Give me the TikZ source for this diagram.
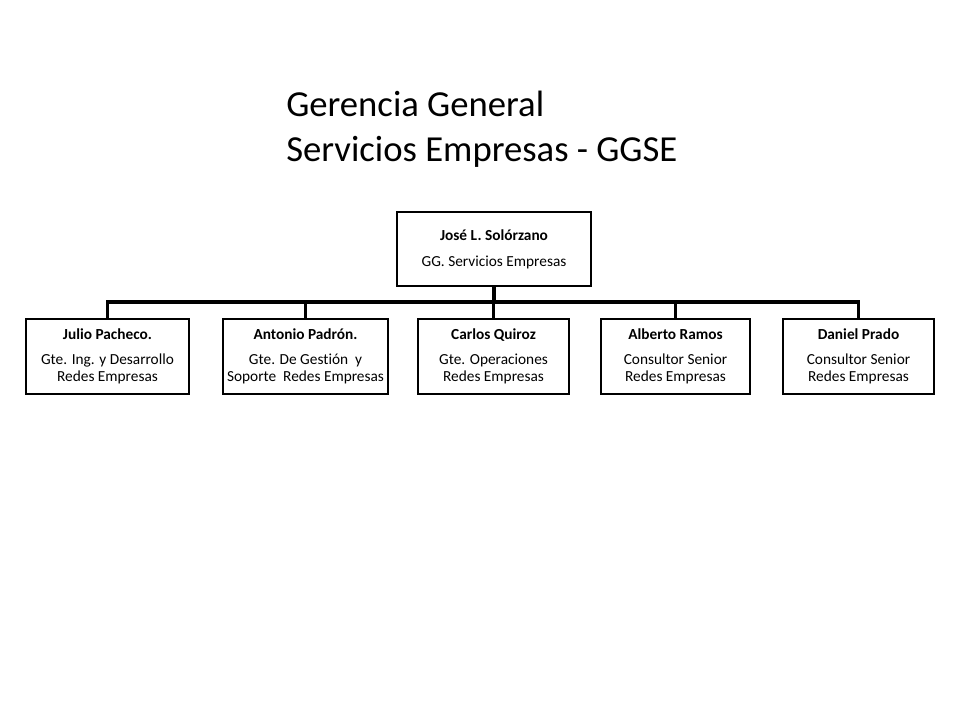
\documentclass[tikz,border=0pt]{standalone}
\usepackage{fontspec}
\setmainfont[Ligatures=NoCommon]{Carlito}
\usetikzlibrary{positioning}

\tikzset{
  persona/.style={draw, line width=1.5pt, align=center, inner sep=0pt,
    minimum height=56.25pt, font=\fontsize{11.5}{12.5}\selectfont},
  enlace/.style={line width=2.3pt, line join=miter}
}

\begin{document}
\begin{tikzpicture}[x=0.75pt,y=-0.75pt]

  \useasboundingbox (0,0) rectangle (960,720);

  \def\busy{302}
  \def\filay{356.5}

  % titulo
  \node[anchor=base west, align=left, inner sep=0pt,
    font=\fontsize{27.5}{34}\selectfont] (titulo) at (286,162)
    {Gerencia General\\Servicios Empresas - GGSE};

  % gerente general
  \node[persona, minimum width=145.5pt, minimum height=55.5pt] (jefe) at (494,249)
    {\textbf{José L. Solórzano}\\[7pt]GG. Servicios Empresas};

  % gerencias y consultores
  \node[persona, minimum width=122.25pt] (julio) at (107.5,\filay)
    {\textbf{Julio Pacheco.}\\[6pt]Gte. Ing. y Desarrollo\\Redes Empresas};
  \node[persona, minimum width=123.75pt] (antonio) at (305.5,\filay)
    {\textbf{Antonio Padrón.}\\[6pt]Gte. De Gestión\ \ y\\Soporte\ \ Redes Empresas};
  \node[persona, minimum width=113.25pt] (carlos) at (493.5,\filay)
    {\textbf{Carlos Quiroz}\\[6pt]Gte. Operaciones\\Redes Empresas};
  \node[persona, minimum width=111.75pt] (alberto) at (675.5,\filay)
    {\textbf{Alberto Ramos}\\[6pt]Consultor Senior\\Redes Empresas};
  \node[persona, minimum width=113.25pt] (daniel) at (858.5,\filay)
    {\textbf{Daniel Prado}\\[6pt]Consultor Senior\\Redes Empresas};

  % lineas de dependencia
  \coordinate (bus) at (494,\busy);
  \draw[enlace] (jefe.south) -- (bus);
  \draw[enlace] (julio.north) -- (julio.north |- bus) -- (daniel.north |- bus) -- (daniel.north);
  \foreach \n in {antonio,carlos,alberto}
    \draw[enlace] (\n.north |- bus) -- (\n.north);

\end{tikzpicture}
\end{document}
